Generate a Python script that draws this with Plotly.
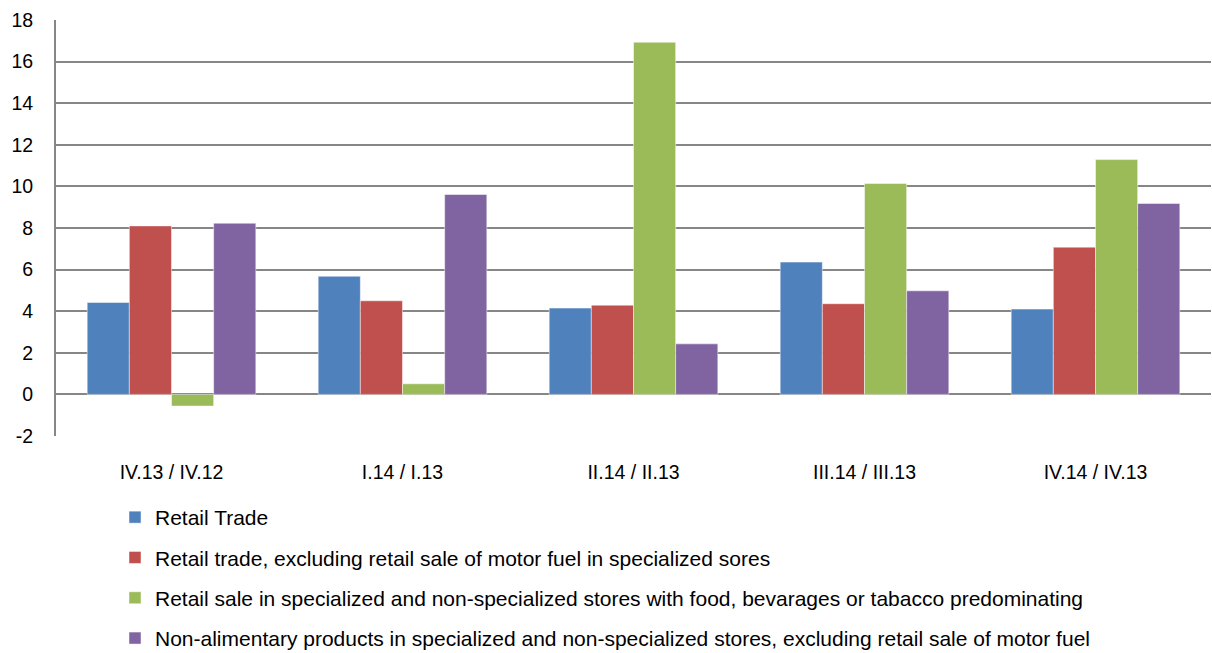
import plotly.graph_objects as go

categories = ["IV.13 / IV.12", "I.14 / I.13", "II.14 / II.13", "III.14 / III.13", "IV.14 / IV.13"]
series_names = [
    "Retail Trade",
    "Retail trade, excluding retail sale of motor fuel in specialized sores",
    "Retail sale in specialized and non-specialized stores with food, bevarages or tabacco predominating",
    "Non-alimentary products in specialized and non-specialized stores, excluding retail sale of motor fuel",
]
retail_trade = [4.42, 5.68, 4.15, 6.36, 4.10]
retail_excl_fuel = [8.10, 4.50, 4.29, 4.36, 7.08]
food_stores = [-0.56, 0.51, 16.93, 10.14, 11.29]
non_alimentary = [8.23, 9.61, 2.43, 4.98, 9.18]
y_ticks = list(range(-2, 19, 2))
y_tick_labels = [str(v) for v in y_ticks]

colors = ["#4F81BD", "#C0504D", "#9BBB59", "#8064A2"]
series_values = [retail_trade, retail_excl_fuel, food_stores, non_alimentary]

fig = go.Figure()
for i, (name, vals) in enumerate(zip(series_names, series_values)):
    fig.add_trace(go.Bar(
        x=categories, y=vals, name=name, legendgroup=f"g{i}",
        marker=dict(color=colors[i], line=dict(color="rgba(255,255,255,0.6)", width=0.8)),
    ))

W, H = 1212, 653
L, R, T, B = 56, 1, 20, 217
PW = W - L - R
PH = H - T - B
fig.update_layout(
    width=W, height=H,
    margin=dict(l=L, r=R, t=T, b=B, autoexpand=False),
    paper_bgcolor="white", plot_bgcolor="white",
    barmode="group", bargap=0.27, bargroupgap=0,
    font=dict(family="Liberation Sans, Arial, sans-serif", size=20, color="#000000"),
    showlegend=True,
    legend=dict(
        orientation="v", x=(115 - L) / PW, xanchor="left",
        y=-(497 - T - PH) / PH, yanchor="top",
        tracegroupgap=10, itemwidth=30,
        font=dict(size=21), bgcolor="rgba(0,0,0,0)",
    ),
    xaxis=dict(
        showgrid=False, showline=False, ticks="", ticklabelstandoff=22,
        tickfont=dict(size=19.5), automargin=False,
    ),
    yaxis=dict(
        range=[-2, 18], tickvals=y_ticks, ticktext=y_tick_labels,
        showgrid=True, gridcolor="#868686", gridwidth=1.8,
        zeroline=True, zerolinecolor="#868686", zerolinewidth=1.8,
        showline=True, linecolor="#868686", linewidth=1.8, ticks="",
        ticklabelstandoff=17, tickfont=dict(size=19.5), automargin=False,
    ),
)

fig.write_html(
    "out.html",
    config={"displayModeBar": False},
    post_script="document.body.style.margin='0';document.body.style.overflow='hidden';",
)
